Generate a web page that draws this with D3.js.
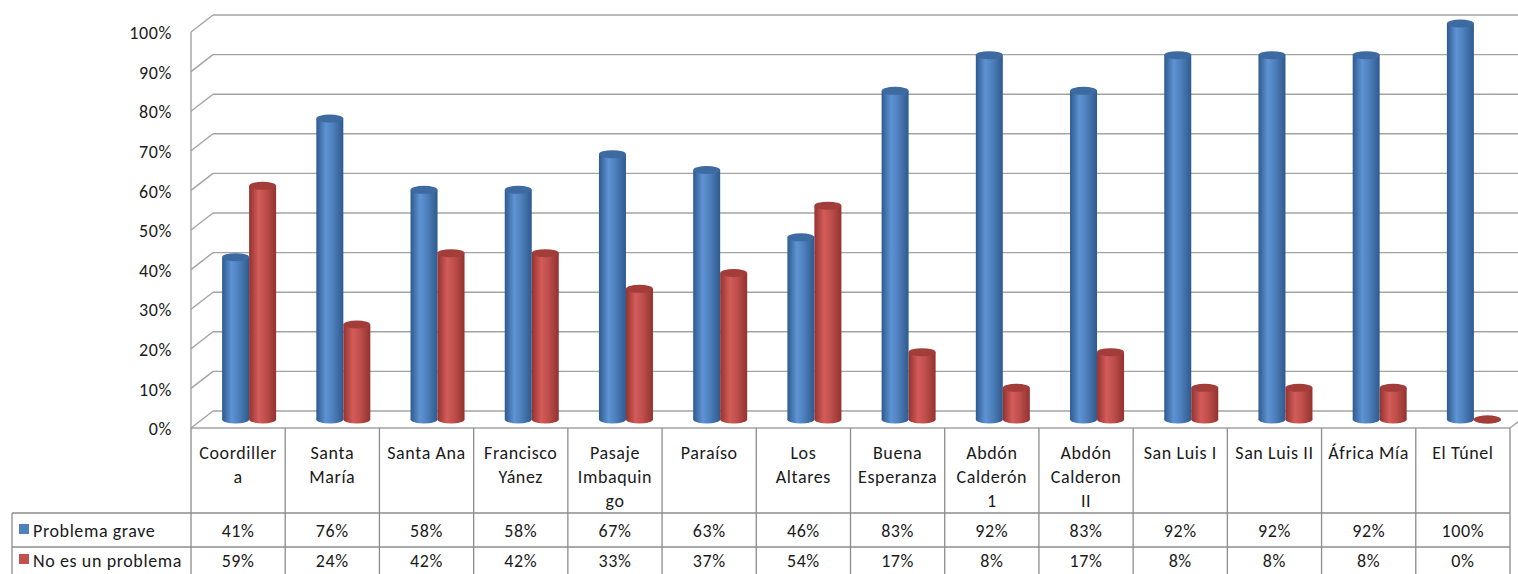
<!DOCTYPE html>
<html>
<head>
<meta charset="utf-8">
<script src="https://cdn.jsdelivr.net/npm/d3@7"></script>
<style>
  body { margin: 0; background: #fff; }
  svg text { font-family: Carlito, Calibri, Lato, "Open Sans", sans-serif; fill: #1a1a1a; letter-spacing: 0.6px; }
</style>
</head>
<body>
<svg id="chart" width="1518" height="574"></svg>
<script>
// categories, one entry per line of the wrapped label
const categories = [
  'Coordillera', 'Santa María', 'Santa Ana', 'Francisco Yánez', 'Pasaje Imbaquingo',
  'Paraíso', 'Los Altares', 'Buena Esperanza', 'Abdón Calderón 1', 'Abdón Calderon II',
  'San Luis I', 'San Luis II', 'África Mía', 'El Túnel',
];
const categoryLines = [
  ['Coordiller', 'a'], ['Santa', 'María'], ['Santa Ana'], ['Francisco', 'Yánez'],
  ['Pasaje', 'Imbaquin', 'go'], ['Paraíso'], ['Los', 'Altares'], ['Buena', 'Esperanza'],
  ['Abdón', 'Calderón', '1'], ['Abdón', 'Calderon', 'II'], ['San Luis I'], ['San Luis II'],
  ['África Mía'], ['El Túnel'],
];
const seriesNames = ['Problema grave', 'No es un problema'];
const problemaGrave = [41, 76, 58, 58, 67, 63, 46, 83, 92, 83, 92, 92, 92, 100];
const noEsProblema = [59, 24, 42, 42, 33, 37, 54, 17, 8, 17, 8, 8, 8, 0];
const yTicks = [0, 10, 20, 30, 40, 50, 60, 70, 80, 90, 100];

const series = [
  { name: seriesNames[0], values: problemaGrave, base: '#4f81bd', dark: '#2e5a8e', light: '#5e93d4', top: '#3d6aa0' },
  { name: seriesNames[1], values: noEsProblema, base: '#c0504d', dark: '#93322f', light: '#d35c59', top: '#a33d3a' },
];

const svg = d3.select('#chart');

const x = d3.scaleBand().domain(categories).range([191, 1510]).paddingInner(0).paddingOuter(0);
const y = d3.scaleLinear().domain([0, 100]).range([428, 32]);

// 3D depth of the plot box
const depthX = 22;
const depthY = -17;
const barW = 27;
const ry = 4;

// gradients for the cylinder shading
const defs = svg.append('defs');
series.forEach((s, i) => {
  const g = defs.append('linearGradient').attr('id', 'cyl' + i).attr('x1', '0%').attr('x2', '100%');
  g.append('stop').attr('offset', '0%').attr('stop-color', s.dark);
  g.append('stop').attr('offset', '35%').attr('stop-color', s.light);
  g.append('stop').attr('offset', '60%').attr('stop-color', s.base);
  g.append('stop').attr('offset', '100%').attr('stop-color', s.dark);
});

const grid = svg.append('g').attr('stroke', '#a3a3a3').attr('stroke-width', 1.4).attr('fill', 'none');

// back wall gridlines and the diagonals from the front axis
yTicks.forEach((t) => {
  grid.append('line')
    .attr('x1', 191 + depthX).attr('x2', 1518)
    .attr('y1', y(t) + depthY).attr('y2', y(t) + depthY);
  grid.append('line')
    .attr('x1', 191).attr('x2', 191 + depthX)
    .attr('y1', y(t)).attr('y2', y(t) + depthY);
});
// front vertical axis
grid.append('line').attr('x1', 191).attr('x2', 191).attr('y1', y(100)).attr('y2', y(0));
// floor front edge and right side
grid.append('line').attr('x1', 191).attr('x2', 1510).attr('y1', y(0)).attr('y2', y(0));
grid.append('line').attr('x1', 1510).attr('x2', 1510 + depthX).attr('y1', y(0)).attr('y2', y(0) + depthY);

// y axis labels
const yAxis = d3.axisLeft(y).tickValues(yTicks).tickSize(0).tickPadding(19).tickFormat((d) => d + '%');
const yAxisG = svg.append('g').attr('transform', 'translate(191,1)').call(yAxis);
yAxisG.select('.domain').remove();
yAxisG.selectAll('text').style('font-size', '18px').attr('fill', '#1a1a1a');

// cylinders
const yMid = (v) => y(v) + depthY / 2;
const bars = svg.append('g');
series.forEach((s, i) => {
  categories.forEach((c, j) => {
    const cx = x(c) + x.bandwidth() / 2 + depthX / 2 + (i === 0 ? -barW / 2 : barW / 2);
    const yTop = yMid(s.values[j]);
    const yBot = yMid(0);
    const g = bars.append('g');
    g.append('ellipse')
      .attr('cx', cx).attr('cy', yBot).attr('rx', barW / 2).attr('ry', ry)
      .attr('fill', `url(#cyl${i})`);
    g.append('rect')
      .attr('x', cx - barW / 2).attr('y', yTop).attr('width', barW).attr('height', yBot - yTop)
      .attr('fill', `url(#cyl${i})`);
    g.append('ellipse')
      .attr('cx', cx).attr('cy', yTop).attr('rx', barW / 2).attr('ry', ry)
      .attr('fill', s.top);
  });
});

// data table
const table = svg.append('g').attr('stroke', '#8c8c8c').attr('stroke-width', 1.3);
const headerBottom = 513;
const rowBottoms = [547, 581];
const tableLeft = 12;

x.domain().forEach((c) => {
  table.append('line').attr('x1', x(c)).attr('x2', x(c)).attr('y1', 428).attr('y2', 574);
});
table.append('line').attr('x1', 1510).attr('x2', 1510).attr('y1', 428).attr('y2', 574);
table.append('line').attr('x1', tableLeft).attr('x2', tableLeft).attr('y1', headerBottom).attr('y2', 574);
table.append('line').attr('x1', tableLeft).attr('x2', 1510).attr('y1', headerBottom).attr('y2', headerBottom);
table.append('line').attr('x1', tableLeft).attr('x2', 1510).attr('y1', rowBottoms[0]).attr('y2', rowBottoms[0]);

// header labels
const headers = svg.append('g').style('font-size', '18px').attr('text-anchor', 'middle');
categories.forEach((c, j) => {
  const t = headers.append('text').attr('x', x(c) + x.bandwidth() / 2).attr('y', 459);
  categoryLines[j].forEach((line, k) => {
    t.append('tspan').attr('x', x(c) + x.bandwidth() / 2).attr('dy', k === 0 ? 0 : 24).text(line);
  });
});

// data rows
const rowCenters = [531, 561];
series.forEach((s, i) => {
  const cy = rowCenters[i];
  svg.append('rect')
    .attr('x', 19).attr('y', cy - 7).attr('width', 10).attr('height', 10)
    .attr('fill', s.base);
  svg.append('text')
    .attr('x', 33).attr('y', cy + 6)
    .style('font-size', '18px')
    .text(s.name);
  categories.forEach((c, j) => {
    svg.append('text')
      .attr('x', x(c) + x.bandwidth() / 2).attr('y', cy + 6)
      .attr('text-anchor', 'middle')
      .style('font-size', '18px')
      .text(s.values[j] + '%');
  });
});
</script>
</body>
</html>
